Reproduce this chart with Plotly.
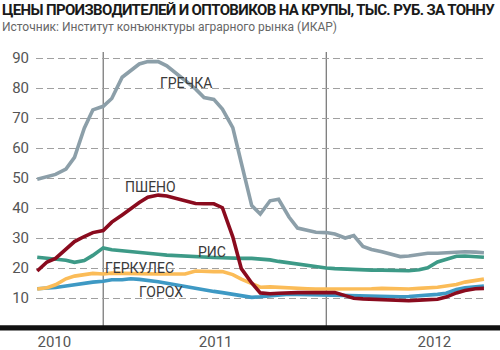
import plotly.graph_objects as go

# Semi-monthly observation dates
dates = [
    "2010-09-15", "2010-10-01", "2010-10-15", "2010-11-01", "2010-11-15", "2010-12-01", "2010-12-15",
    "2011-01-01", "2011-01-15", "2011-02-01", "2011-02-15", "2011-03-01", "2011-03-15", "2011-04-01",
    "2011-04-15", "2011-05-01", "2011-05-15", "2011-06-01", "2011-06-15", "2011-07-01", "2011-07-15",
    "2011-08-01", "2011-08-15", "2011-09-01", "2011-09-15", "2011-10-01", "2011-10-15", "2011-11-01",
    "2011-11-15", "2011-12-01", "2011-12-15", "2012-01-01", "2012-01-15", "2012-02-01", "2012-02-15",
    "2012-03-01", "2012-03-15", "2012-04-01", "2012-04-15", "2012-05-01", "2012-05-15", "2012-06-01",
    "2012-06-15", "2012-07-01", "2012-07-15", "2012-08-01", "2012-08-15", "2012-09-01", "2012-09-15",
]

# Prices, thousand roubles per tonne
buckwheat = [49.6, 50.6, 51.2, 53.0, 56.9, 66.6, 72.7, 73.9, 76.5, 83.6,
             85.9, 88.0, 88.8, 88.8, 87.4, 84.8, 82.6, 79.7, 76.8, 76.2,
             73.0, 66.8, 55.0, 40.8, 38.0, 42.4, 42.9, 37.0, 33.3, 32.5,
             31.9, 31.8, 31.3, 30.0, 30.8, 27.2, 26.2, 25.4, 24.6, 23.8,
             24.0, 24.6, 24.9, 24.9, 25.1, 25.4, 25.4, 25.3, 25.1]
millet = [19.0, 22.0, 23.2, 26.4, 28.8, 30.5, 31.8, 32.5, 35.3, 37.7,
          39.8, 41.8, 43.6, 44.3, 44.0, 43.2, 42.4, 41.5, 41.4, 41.4,
          40.1, 30.4, 19.8, 15.0, 11.7, 11.4, 11.6, 11.8, 11.8, 11.8,
          11.8, 11.8, 11.8, 10.8, 9.9, 9.7, 9.6, 9.6, 9.5, 9.2,
          9.1, 9.3, 9.4, 9.6, 10.3, 11.7, 12.5, 13.1, 13.2]
rice = [23.6, 23.2, 22.8, 22.6, 21.9, 22.5, 24.2, 26.7, 26.1, 25.7,
        25.5, 25.3, 25.0, 24.6, 24.3, 24.1, 23.8, 23.7, 23.7, 23.5,
        23.4, 23.2, 23.2, 23.2, 23.0, 22.7, 22.2, 21.7, 21.4, 21.0,
        20.5, 20.0, 19.8, 19.6, 19.4, 19.3, 19.3, 19.3, 19.2, 19.1,
        19.1, 19.4, 20.1, 22.0, 23.0, 23.9, 24.0, 23.8, 23.6]
oats = [13.0, 13.4, 14.4, 16.4, 17.3, 17.9, 18.2, 18.0, 18.3, 18.2,
        18.1, 18.0, 18.0, 18.0, 18.0, 18.0, 18.0, 19.0, 18.8, 18.8,
        18.8, 17.8, 16.3, 14.8, 13.6, 13.7, 13.5, 13.4, 13.2, 13.1,
        13.0, 13.0, 12.9, 12.9, 12.9, 13.0, 13.1, 13.2, 13.1, 12.9,
        13.0, 13.2, 13.3, 13.6, 14.0, 14.5, 15.3, 15.8, 16.3]
peas = [13.1, 13.2, 13.5, 14.0, 14.5, 15.0, 15.3, 15.6, 16.1, 16.1,
        16.4, 16.2, 15.9, 15.4, 14.9, 14.3, 13.7, 13.1, 12.7, 12.2,
        11.8, 11.2, 10.6, 10.2, 10.4, 10.8, 11.0, 11.3, 11.2, 11.1,
        11.0, 11.0, 10.9, 10.7, 10.7, 10.7, 10.7, 10.6, 10.5, 10.4,
        10.5, 10.7, 10.9, 11.2, 11.6, 12.8, 13.4, 13.8, 14.0]

y_ticks = [10, 20, 30, 40, 50, 60, 70, 80, 90]
year_pos = ["2010-10-13", "2011-07-04", "2012-06-26"]
year_text = ["2010", "2011", "2012"]
year_bounds = ["2011-01-01", "2012-01-01"]

# (name, values, colour, label date, label value)
series = [
    ("ГОРОХ", peas, "#3e99c4", "2011-04-06", 12.0),
    ("ГЕРКУЛЕС", oats, "#fbbc58", "2011-03-02", 20.0),
    ("РИС", rice, "#3d9a87", "2011-06-28", 25.3),
    ("ГРЕЧКА", buckwheat, "#8c9fa9", "2011-05-17", 81.7),
    ("ПШЕНО", millet, "#8a0b1e", "2011-03-20", 47.0),
]

W, H = 500, 350
ML, MR, MT, MB = 36, 13, 52, 22
PW, PH = W - ML - MR, H - MT - MB


def px_x(px):
    return (px - ML) / PW


def px_y(py):
    return (H - MB - py) / PH


fig = go.Figure()
for name, vals, color, _, _ in series:
    fig.add_trace(go.Scatter(
        x=dates, y=vals, mode="lines", name=name,
        line=dict(color=color, width=3.6),
        hoverinfo="skip",
    ))

annotations = []
for name, _, _, lx, ly in series:
    annotations.append(dict(
        x=lx, y=ly, xref="x", yref="y", text=name, showarrow=False,
        font=dict(family="Roboto", size=14, color="#3a3a3a"),
        xanchor="center", yanchor="middle",
    ))

annotations.append(dict(
    x=px_x(0), y=px_y(10), xref="paper", yref="paper",
    text="<b><span style='letter-spacing:-0.65px'>ЦЕНЫ ПРОИЗВОДИТЕЛЕЙ И ОПТОВИКОВ НА КРУПЫ, ТЫС. РУБ. ЗА ТОННУ</span></b>",
    showarrow=False, xanchor="left", yanchor="middle",
    font=dict(family="Roboto", size=15, color="#1a1a1a"),
))
annotations.append(dict(
    x=px_x(0), y=px_y(27), xref="paper", yref="paper",
    text="Источник: Институт конъюнктуры аграрного рынка (ИКАР)",
    showarrow=False, xanchor="left", yanchor="middle",
    font=dict(family="Roboto", size=12, color="#666666"),
))

shapes = []
for xb in year_bounds:
    shapes.append(dict(
        type="line", xref="x", yref="paper", x0=xb, x1=xb, y0=0, y1=1,
        line=dict(color="#707070", width=1.2), layer="below",
    ))
# heavy baseline across the full width
shapes.append(dict(
    type="rect", xref="paper", yref="paper",
    x0=px_x(0), x1=px_x(W), y0=px_y(330.5), y1=px_y(325.2),
    fillcolor="#111111", line=dict(width=0), layer="above",
))

fig.update_layout(
    width=W, height=H,
    margin=dict(l=ML, r=MR, t=MT, b=MB, pad=0, autoexpand=False),
    paper_bgcolor="white", plot_bgcolor="white",
    showlegend=False,
    annotations=annotations,
    shapes=shapes,
    xaxis=dict(
        type="date", range=["2010-09-13", "2012-09-20"],
        tickvals=year_pos, ticktext=year_text,
        showgrid=False, zeroline=False, showline=False, ticks="",
        tickfont=dict(family="Roboto", size=15, color="#555555"),
        ticklabelstandoff=3, automargin=False,
    ),
    yaxis=dict(
        range=[0, 92], tickvals=y_ticks,
        showgrid=True, gridcolor="#a0a0a0", gridwidth=1, griddash="7px,4px",
        zeroline=False, showline=False, ticks="",
        tickfont=dict(family="Roboto", size=15, color="#555555"),
        ticklabelstandoff=6, automargin=False,
    ),
)

fig.write_html("out.html")
